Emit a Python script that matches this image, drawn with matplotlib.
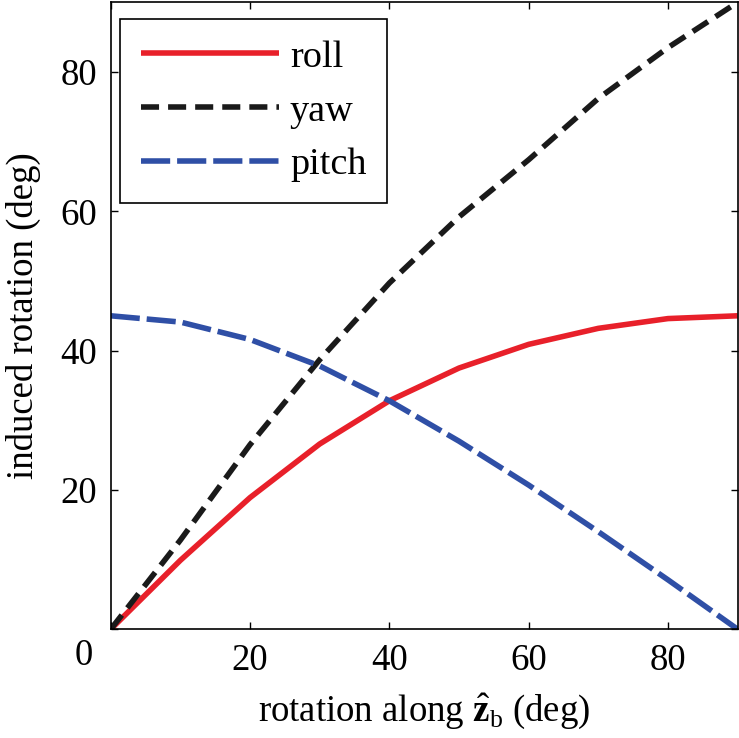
import numpy as np
import matplotlib
matplotlib.use('Agg')
import matplotlib.pyplot as plt

# dati
angolo = [0, 10, 20, 30, 40, 50, 60, 70, 80, 90]
roll = [0, 9.9, 18.9, 26.6, 32.8, 37.5, 40.9, 43.2, 44.6, 45.0]
yaw = [0, 12.8, 26.5, 38.7, 49.7, 59.2, 67.4, 76.2, 83.5, 90.0]
pitch = [45.0, 44.1, 41.6, 37.8, 32.8, 27.0, 20.7, 14.0, 7.1, 0]

tick_x = [0, 20, 40, 60, 80]
tick_y = [0, 20, 40, 60, 80]

plt.rcParams['font.family'] = 'Liberation Serif'
plt.rcParams['mathtext.fontset'] = 'custom'
plt.rcParams['mathtext.rm'] = 'Liberation Serif'
plt.rcParams['mathtext.bf'] = 'Liberation Serif:bold'
plt.rcParams['lines.scale_dashes'] = False

fs = 26.5
fs_leg = 27.5
fig = plt.figure(figsize=(7.39, 7.38), dpi=100)
ax = fig.add_axes([0.1498, 0.1473, 0.8484, 0.8496])

ax.plot(angolo, roll, '-', color='#e8202a', lw=4, label='roll', solid_capstyle='butt')
ax.plot(angolo, yaw, color='#1a1a1a', lw=4, dashes=(13, 6.5), label='yaw')
ax.plot(angolo, pitch, color='#2f4fa6', lw=4, dashes=(21, 5), label='pitch')

ax.set_xlim(0, 90)
ax.set_ylim(0, 90)
ax.set_xticks(tick_x)
ax.set_xticklabels([''] + [str(t) for t in tick_x[1:]])
ax.set_yticks(tick_y)
ax.set_yticklabels([''] + [str(t) for t in tick_y[1:]])
ax.tick_params(direction='in', length=5, width=1, labelsize=fs, top=True, right=True, pad=10)
for s in ax.spines.values():
    s.set_linewidth(1.2)

# lo "0" condiviso nell'angolo
fig.text(93 / 739, 1 - 656 / 738, '0', fontsize=fs, ha='right', va='center')

ax.set_xlabel(r'rotation along $\hat{\mathbf{z}}_{\mathrm{b}}$ (deg)', fontsize=fs, labelpad=10)
ax.set_ylabel('induced rotation (deg)', fontsize=fs, labelpad=14)

leg = ax.legend(loc='upper left', bbox_to_anchor=(120 / 739, 1 - 19 / 738),
                bbox_transform=fig.transFigure, fontsize=fs_leg, fancybox=False,
                edgecolor='black', framealpha=1, borderaxespad=0,
                handlelength=3.6, handletextpad=0.3, labelspacing=0.5,
                borderpad=0.55)
leg.get_frame().set_linewidth(1.2)

fig.savefig('out.png', dpi=100)
